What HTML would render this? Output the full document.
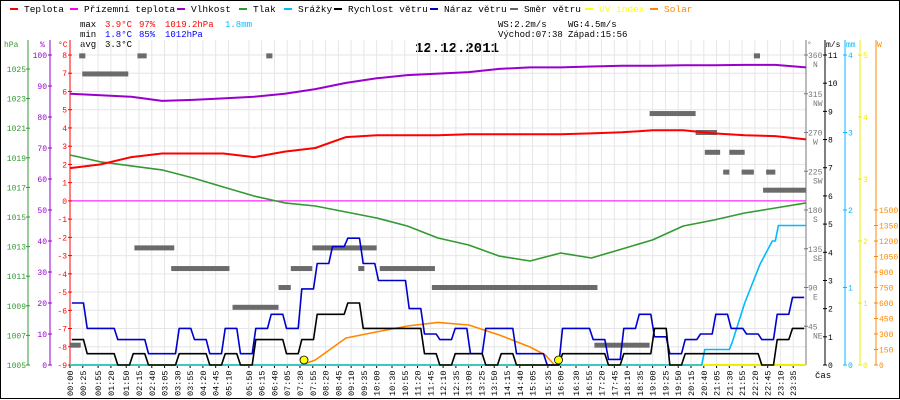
<!DOCTYPE html>
<html><head><meta charset="utf-8"><style>
html,body{margin:0;padding:0;background:#fff}
svg{display:block}
text{font-family:"Liberation Mono",monospace}
</style></head><body>
<svg id="c" width="900" height="400" xmlns="http://www.w3.org/2000/svg">
<rect x="0.5" y="0.5" width="899" height="398" fill="#fff" stroke="#000"/>
<g id="legend"></g>
<g font-size="9">
<text x="80" y="27">max</text><text x="105" y="27" fill="#f00">3.9°C</text><text x="139" y="27" fill="#f00">97%</text><text x="165" y="27" fill="#f00">1019.2hPa</text><text x="225" y="27" fill="#00bfff">1.8mm</text>
<text x="80" y="37">min</text><text x="105" y="37" fill="#00f">1.8°C</text><text x="139" y="37" fill="#00f">85%</text><text x="165" y="37" fill="#00f">1012hPa</text>
<text x="80" y="47">avg</text><text x="105" y="47">3.3°C</text>
<text x="498" y="27">WS:2.2m/s</text><text x="568" y="27">WG:4.5m/s</text>
<text x="498" y="37">Východ:07:38</text><text x="568" y="37">Západ:15:56</text>
</g>
<text x="415" y="52" font-size="14" font-weight="bold">12.12.2011</text>
<g id="grid"></g>
<g id="axes"></g>
<g id="series"></g>
</svg>
<script>
const NS="http://www.w3.org/2000/svg";
const hours=[0,1,2,3,4,5,6,7,8,9,10,11,12,13,14,15,16,17,18,19,20,21,22,23,24];
const temperature=[1.8,2.0,2.4,2.6,2.6,2.6,2.4,2.7,2.9,3.5,3.6,3.6,3.6,3.65,3.65,3.65,3.65,3.7,3.76,3.87,3.87,3.7,3.6,3.55,3.37];
const humidity=[87.5,87,86.5,85.2,85.5,86,86.5,87.5,89,91,92.5,93.5,94,94.5,95.5,96,96,96.3,96.5,96.5,96.7,96.7,96.8,96.8,96];
const pressure=[1019.19,1018.72,1018.45,1018.18,1017.64,1017.03,1016.42,1015.95,1015.74,1015.34,1014.93,1014.39,1013.58,1013.11,1012.36,1012.03,1012.57,1012.23,1012.84,1013.45,1014.39,1014.8,1015.27,1015.61,1015.95];
const windSpeed=[0.9,0.4,0.4,0,0.4,0,0,0.4,0.4,0,0.4,0,0.9,0.9,0.4,0.9,1.8,1.8,2.2,1.3,1.3,1.3,1.3,0.4,0,0.4,0.4,0,0.4,0,0,0,0.4,0.4,0.4,0,0.4,0.4,1.3,0,0.4,0.4,0.4,0.4,0.4,0,0.9,1.3];
const windGust=[2.2,1.3,1.3,0.9,0.9,0.4,0.4,1.3,0.9,0.4,1.3,0.4,1.3,1.8,1.3,2.7,3.6,4.2,4.5,3.6,3.0,3.0,2.0,1.1,0.9,1.3,0.4,1.3,1.3,0.4,0.4,0,1.3,1.3,0.9,0.2,1.3,1.8,1.0,0.4,0.9,1.1,1.8,1.3,1.1,0.9,1.8,2.4];
const rainHours=[0,20.6,20.7,21.5,21.6,22.0,22.5,22.9,23.0,23.1,24];
const rainMm=[0,0,0.2,0.2,0.3,0.8,1.3,1.6,1.6,1.8,1.8];
const solarHours=[7.55,8,9,10,11,12,13,14,15,15.5,15.8];
const solarW=[0,48,261,320,377,412,387,290,174,97,0];
const dirStart=[0.3,0.4,2.2,6.4,0.0,2.1,3.3,5.3,6.8,7.2,7.9,9.7,9.4,10.1,11.8,17.1,18.9,20.4,20.7,21.5,21.3,21.9,22.7,22.6,22.3];
const dirEnd=[0.5,1.9,2.5,6.6,0.35,3.4,5.2,6.8,7.2,7.9,9.7,10.0,9.6,11.9,17.2,18.9,20.4,21.1,21.2,22.0,21.5,22.3,23.0,24.0,22.5];
const dirDeg=[359,338,359,359,23,136,112,67,90,112,136,136,112,112,90,23,292,270,247,247,224,224,224,203,359];
const sunHours=[7.63,15.93];
const xLabels=["00:00","00:25","00:55","01:20","01:50","02:15","02:40","03:05","03:30","03:55","04:20","04:45","05:10","05:50","06:15","06:40","07:05","07:30","07:55","08:20","08:45","09:10","09:35","10:00","10:30","10:55","11:20","11:45","12:10","12:35","13:00","13:25","13:50","14:15","14:40","15:05","15:35","16:00","16:30","16:55","17:20","17:45","18:10","18:35","19:00","19:25","19:50","20:15","20:40","21:05","21:30","21:55","22:20","22:45","23:10","23:35"];
const hpaTicks=[1005,1007,1009,1011,1013,1015,1017,1019,1021,1023,1025];
const humTicks=[0,10,20,30,40,50,60,70,80,90,100];
const tempTicks=[-9,-8,-7,-6,-5,-4,-3,-2,-1,0,1,2,3,4,5,6,7,8];
const dirTicks=[45,90,135,180,225,270,315,360];
const dirNames=["NE","E","SE","S","SW","W","NW","N"];
const msTicks=[0,1,2,3,4,5,6,7,8,9,10,11];
const mmTicks=[0,1,2,3,4];
const uvTicks=[0,1,2,3,4,5];
const wTicks=[0,150,300,450,600,750,900,1050,1200,1350,1500];
const legendNames=["Teplota","Přízemní teplota","Vlhkost","Tlak","Srážky","Rychlost větru","Náraz větru","Směr větru","UV index","Solar"];
const legendColors=["#f00","#f0f","#90c","#393","#0bf","#000","#00c","#666","#ff0","#f80"];
const legendX=[4,64,171,233,278,328,424,504,579,644];

const X=h=>70+h*736/24;
const YT=c=>365-(c+9)*310/17;
const YH=p=>365-p*3.1;
const YP=v=>365-(v-1005)*14.8;
const YW=v=>365-v*310/11;
const YD=d=>365-d*310/360;
const YM=v=>365-v*77.5;
const YU=v=>365-v*62;
const YS=v=>365-v*155/1500;
const g=id=>document.getElementById(id);
function mk(tag,attrs,parent){const e=document.createElementNS(NS,tag);for(const k in attrs)e.setAttribute(k,attrs[k]);parent.appendChild(e);return e;}
function txt(x,y,s,fill,parent,anchor,size){const t=mk("text",{x:x,y:y,fill:fill,"font-size":size||8,"text-anchor":anchor||"start"},parent);t.textContent=s;return t;}

// legend
const lg=g("legend");
legendNames.forEach((n,i)=>{
  const it=mk("g",{},lg);
  
  
  mk("line",{x1:legendX[i]+6,x2:legendX[i]+14,y1:9,y2:9,stroke:legendColors[i],"stroke-width":2},it);
  const c=(i===8||i===9)?legendColors[i]:"#000";
  txt(legendX[i]+20,12,n,c,it,"start",9.5);
});

// grid
const gr=g("grid");
xLabels.forEach(l=>{const p=l.split(":");const h=+p[0]+p[1]/60;
  const ln=mk("line",{x1:X(h),x2:X(h),y1:40,y2:365,stroke:"#e6e6e6"},gr);
  
  
});
tempTicks.forEach(t=>{const ln=mk("line",{x1:70,x2:806,y1:YT(t),y2:YT(t),stroke:"#e6e6e6"},gr);
  
  
});
mk("line",{x1:70,x2:806,y1:YT(0),y2:YT(0),stroke:"#f0f"},gr);

// axes
const ax=g("axes");
function axis(name,x,color,ticks,yf,fmt,side,lx){
  const a=mk("g",{},ax);
  
  
  mk("line",{x1:x,x2:x,y1:40,y2:365,stroke:color},a);
  ticks.forEach((t,i)=>{const y=yf(t);
    mk("line",{x1:x-2,x2:x+2,y1:y,y2:y,stroke:color},a);
    txt(lx,y+3,fmt(t,i),color,a,side,8);
  });
  return a;
}
axis("hpa-axis",28,"#393",hpaTicks,YP,t=>t,"end",26);
axis("humidity-axis",50,"#90c",humTicks,YH,t=>t,"end",47);
axis("temperature-axis",70,"#f00",tempTicks,YT,t=>t,"end",67);
const da=axis("direction-axis",806,"#777",dirTicks,YD,t=>t,"start",808);
dirTicks.forEach((t,i)=>txt(813,YD(t)+12,dirNames[i],"#777",da,"start",8));
axis("wind-speed-axis",825,"#000",msTicks,YW,t=>t,"start",828);
axis("rain-axis",845,"#0bf",mmTicks,YM,t=>t,"start",848);
axis("uv-axis",860,"#ee0",uvTicks,YU,t=>t,"start",863);
axis("solar-axis",876,"#f80",wTicks,YS,t=>t,"start",879);
[[4,"hPa","#393"],[40,"%","#90c"],[58,"°C","#f00"],[807,"°","#777"],[826,"m/s","#000"],[846,"mm","#0bf"],[877,"W","#f80"]].forEach(u=>{
  const t=txt(u[0],47,u[1],u[2],ax,"start",8);
  
  
});
const cas=txt(815,378,"čas","#000",ax,"start",9);


mk("line",{x1:70,x2:806,y1:365,y2:365,stroke:"#000"},ax);
xLabels.forEach(l=>{const p=l.split(":");const h=+p[0]+p[1]/60;const x=X(h);
  mk("line",{x1:x,x2:x,y1:365,y2:368,stroke:"#000"},ax);
  const t=mk("text",{x:0,y:0,"font-size":8.5,fill:"#000",transform:`translate(${x+3},396) rotate(-90)`},ax);
  t.textContent=l;
  
  
});

// series
const sr=g("series");
function poly(name,pts,color,w){const p=mk("polyline",{points:pts.map(q=>q[0].toFixed(1)+","+q[1].toFixed(1)).join(" "),fill:"none",stroke:color,"stroke-width":w||1.6,"stroke-linejoin":"round"},sr);
  
  return p;}
// uv line
poly("uv-index-line",[[X(0),YU(0)],[X(24),YU(0)]],"#ee0",2);
// wind direction
dirDeg.forEach((d,i)=>{const r=mk("rect",{x:X(dirStart[i]),y:YD(d)-2.5,width:Math.max(3,X(dirEnd[i])-X(dirStart[i])),height:5,fill:"#6b6b6b"},sr);
  
  
});
poly("solar-line",solarHours.map((h,i)=>[X(h),YS(solarW[i])]),"#f80",1.6);
poly("rain-line",rainHours.map((h,i)=>[X(h),YM(rainMm[i])]),"#0bf",1.6);
function steps(arr){const pts=[];arr.forEach((v,i)=>{pts.push([X(i*0.5+0.06),YW(v)]);pts.push([X(i*0.5+0.44),YW(v)]);});return pts;}
poly("wind-gust-line",steps(windGust),"#00c",1.6);
poly("wind-speed-line",steps(windSpeed),"#000",1.6);
poly("pressure-line",hours.map((h,i)=>[X(h),YP(pressure[i])]),"#393",1.6);
poly("humidity-line",hours.map((h,i)=>[X(h),YH(humidity[i])]),"#90c",2);
poly("temperature-line",hours.map((h,i)=>[X(h),YT(temperature[i])]),"#f00",2);
sunHours.forEach(h=>{const c=mk("circle",{cx:X(h),cy:360,r:4,fill:"#ff0",stroke:"#000","stroke-width":0.8},sr);
  
  
});
</script>
</body></html>
